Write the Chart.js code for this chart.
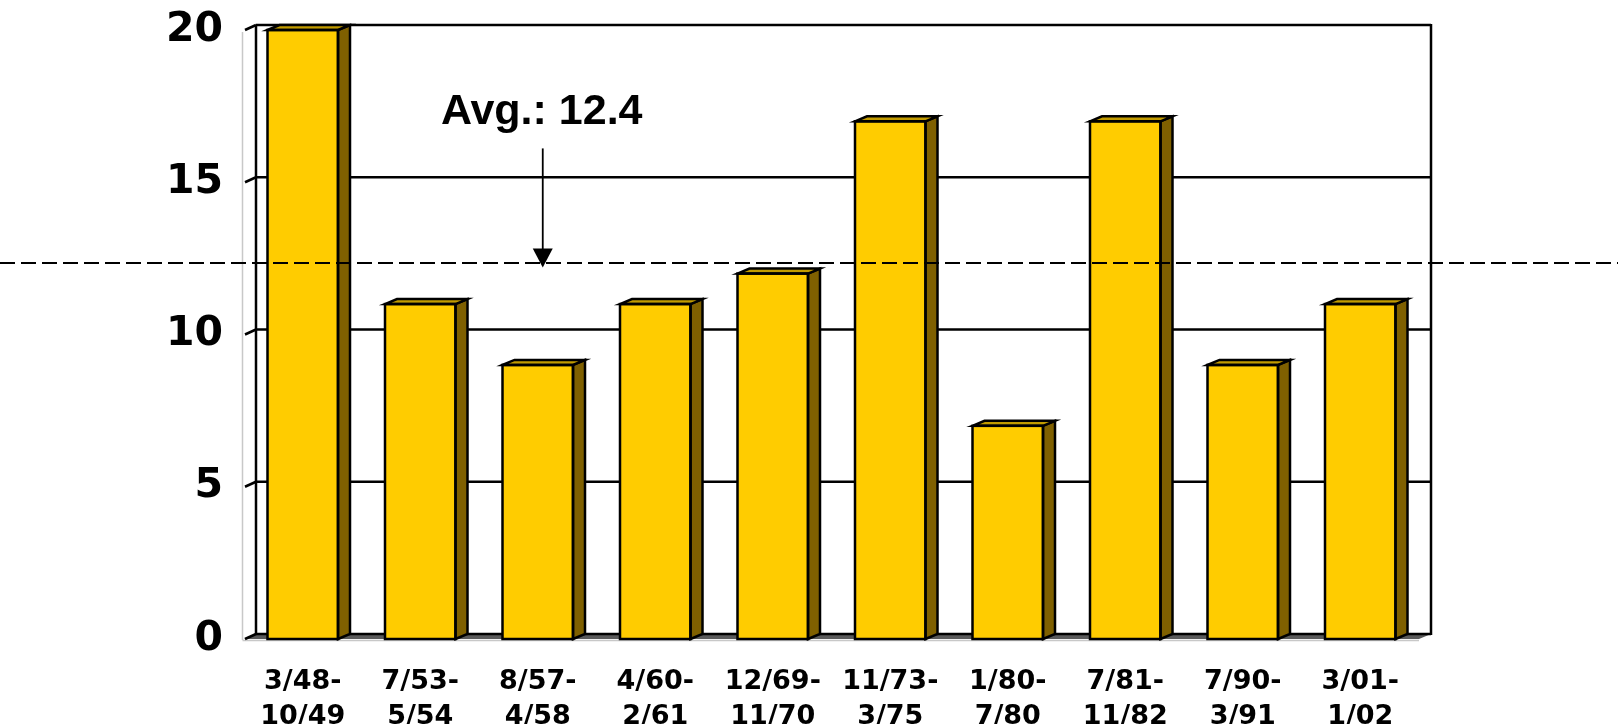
<!DOCTYPE html>
<html>
<head>
<meta charset="utf-8">
<script src="https://cdn.jsdelivr.net/npm/chart.js@4/dist/chart.umd.min.js"></script>
<style>
  html, body { margin: 0; padding: 0; background: #ffffff; }
  #wrap { width: 1618px; height: 724px; }
</style>
</head>
<body>
<div id="wrap"><canvas id="chart" width="1618" height="724"></canvas></div>
<script>
// Recession periods (start - end) and their length in months
const periods = [
  ['3/48-', '10/49'], ['7/53-', '5/54'], ['8/57-', '4/58'], ['4/60-', '2/61'],
  ['12/69-', '11/70'], ['11/73-', '3/75'], ['1/80-', '7/80'], ['7/81-', '11/82'],
  ['7/90-', '3/91'], ['3/01-', '1/02']
];
const durations = [20, 11, 9, 11, 12, 17, 7, 17, 9, 11];
const averageValue = 12.4;
const averageLabel = 'Avg.: 12.4';
const yTicks = [0, 5, 10, 15, 20];

// depth offset of the pseudo-3D walls and bar sides
const DEPTH_X = 12;
const DEPTH_Y = -5;

function line(ctx, x1, y1, x2, y2) {
  ctx.beginPath();
  ctx.moveTo(x1, y1);
  ctx.lineTo(x2, y2);
  ctx.stroke();
}

const depthPlugin = {
  id: 'depth',
  beforeDatasetsDraw(chart) {
    const ctx = chart.ctx;
    const { left, right, bottom } = chart.chartArea;
    const y = chart.scales.y;
    const topVal = yTicks[yTicks.length - 1];
    const wallTop = y.getPixelForValue(topVal) + DEPTH_Y;
    const wallBottom = bottom + DEPTH_Y;
    ctx.save();
    // floor strip
    ctx.fillStyle = '#5a5a5a';
    ctx.beginPath();
    ctx.moveTo(left, bottom);
    ctx.lineTo(left + DEPTH_X, wallBottom);
    ctx.lineTo(right + DEPTH_X, wallBottom);
    ctx.lineTo(right, bottom);
    ctx.closePath();
    ctx.fill();
    // side wall front edge and floor front edge (light grey)
    ctx.strokeStyle = '#c8c8c8';
    ctx.lineWidth = 1.5;
    line(ctx, left - 1.5, y.getPixelForValue(topVal) + 2, left - 1.5, bottom + 1);
    line(ctx, left - 1.5, bottom + 1.5, right, bottom + 1.5);
    // back wall grid lines and side wall ticks
    ctx.strokeStyle = '#000000';
    ctx.lineWidth = 2.5;
    yTicks.forEach(v => {
      const py = y.getPixelForValue(v);
      line(ctx, left + DEPTH_X, py + DEPTH_Y, right + DEPTH_X, py + DEPTH_Y);
      line(ctx, left + 1, py, left + DEPTH_X, py + DEPTH_Y);
    });
    // back wall outline
    line(ctx, left + DEPTH_X, wallTop, left + DEPTH_X, wallBottom);
    line(ctx, right + DEPTH_X, wallTop - 1, right + DEPTH_X, wallBottom + 1);
    ctx.restore();
  },
  afterDatasetsDraw(chart) {
    const ctx = chart.ctx;
    const meta = chart.getDatasetMeta(0);
    ctx.save();
    ctx.strokeStyle = '#000000';
    ctx.lineWidth = 2.5;
    ctx.lineJoin = 'miter';
    meta.data.forEach(bar => {
      const p = bar.getProps(['x', 'y', 'base', 'width'], true);
      const l = p.x - p.width / 2;
      const r = p.x + p.width / 2;
      // side face
      ctx.fillStyle = '#7f6000';
      ctx.beginPath();
      ctx.moveTo(r, p.y);
      ctx.lineTo(r + DEPTH_X, p.y + DEPTH_Y);
      ctx.lineTo(r + DEPTH_X, p.base + DEPTH_Y);
      ctx.lineTo(r, p.base);
      ctx.closePath();
      ctx.fill();
      ctx.stroke();
      // top face
      ctx.fillStyle = '#c29b00';
      ctx.beginPath();
      ctx.moveTo(l, p.y);
      ctx.lineTo(l + DEPTH_X, p.y + DEPTH_Y);
      ctx.lineTo(r + DEPTH_X, p.y + DEPTH_Y);
      ctx.lineTo(r, p.y);
      ctx.closePath();
      ctx.fill();
      ctx.stroke();
      // front outline
      ctx.strokeRect(l, p.y, r - l, p.base - p.y);
    });
    ctx.restore();
  },
  afterDraw(chart) {
    const ctx = chart.ctx;
    const y = chart.scales.y;
    const x = chart.scales.x;
    const ya = y.getPixelForValue(averageValue);
    ctx.save();
    // average line across the full width
    ctx.strokeStyle = '#000000';
    ctx.lineWidth = 2;
    ctx.setLineDash([15, 6]);
    line(ctx, 0, ya + 1.5, chart.width, ya + 1.5);
    ctx.setLineDash([]);
    // arrow pointing at the average
    const ax = x.getPixelForValue(2) + 5;
    ctx.lineWidth = 1.8;
    line(ctx, ax, ya - 113, ax, ya - 12);
    ctx.fillStyle = '#000000';
    ctx.beginPath();
    ctx.moveTo(ax - 10, ya - 13);
    ctx.lineTo(ax + 10, ya - 13);
    ctx.lineTo(ax, ya + 6);
    ctx.closePath();
    ctx.fill();
    // annotation text
    ctx.font = 'bold 43px "Liberation Sans", Arial, sans-serif';
    ctx.textAlign = 'center';
    ctx.textBaseline = 'alphabetic';
    ctx.fillText(averageLabel, ax - 1, ya - 137);
    ctx.restore();
  }
};

new Chart(document.getElementById('chart'), {
  type: 'bar',
  data: {
    labels: periods,
    datasets: [{
      data: durations,
      backgroundColor: '#ffcc00',
      borderColor: '#000000',
      borderWidth: 0,
      borderSkipped: false,
      categoryPercentage: 1,
      barPercentage: 0.6
    }]
  },
  options: {
    responsive: false,
    animation: false,
    devicePixelRatio: 1,
    layout: { padding: { top: 30, right: 199, left: 0, bottom: 0 } },
    plugins: {
      legend: { display: false },
      tooltip: { enabled: false }
    },
    scales: {
      x: {
        grid: { display: false, drawTicks: false },
        border: { display: false },
        ticks: {
          color: '#000000',
          padding: 25,
          maxRotation: 0,
          autoSkip: false,
          font: { family: '"DejaVu Sans", Verdana, sans-serif', weight: 'bold', size: 27, lineHeight: 1.3 }
        },
        afterFit(scale) { scale.height = 85; }
      },
      y: {
        min: 0,
        max: 20,
        grid: { display: false, drawTicks: false },
        border: { display: false },
        ticks: {
          stepSize: 5,
          color: '#000000',
          padding: 21,
          // compact line box keeps the label overflow inside the top margin
          font: { family: '"DejaVu Sans", Verdana, sans-serif', weight: 'bold', size: 41, lineHeight: 0.4 }
        },
        afterFit(scale) { scale.width = 244; }
      }
    }
  },
  plugins: [depthPlugin]
});
</script>
</body>
</html>
